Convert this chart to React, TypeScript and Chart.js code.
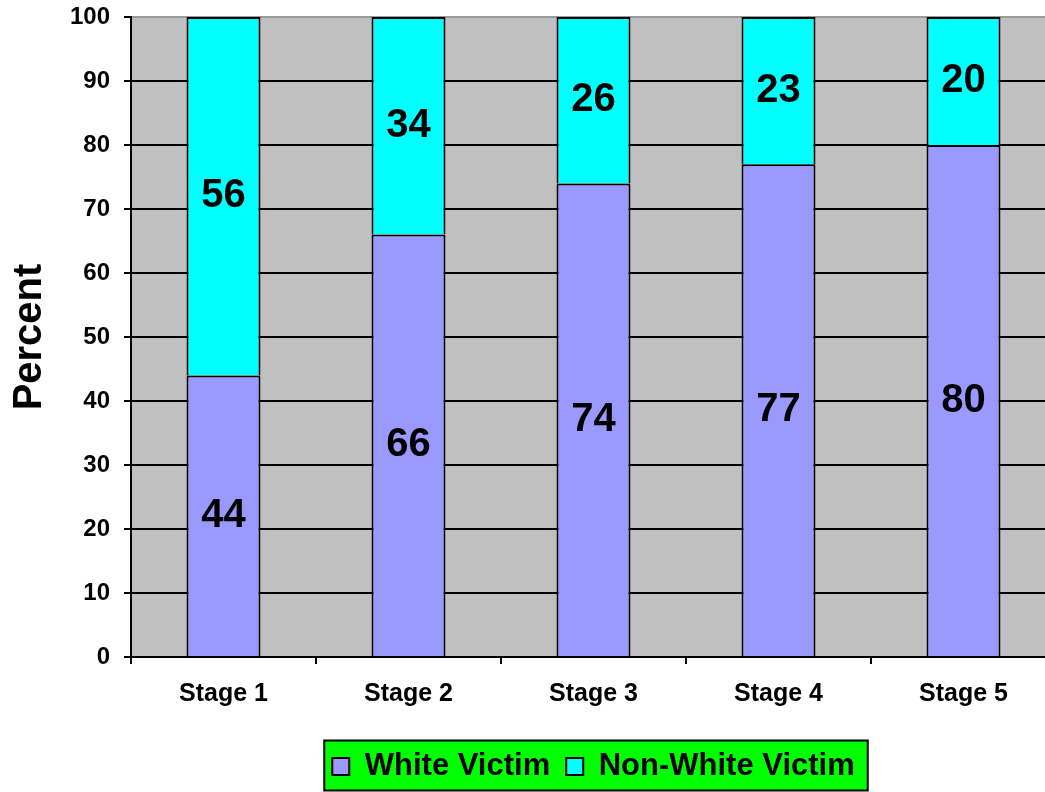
import React, { useEffect, useRef } from "react";
import { Chart, registerables } from "chart.js";

Chart.register(...registerables);

const categories = ["Stage 1", "Stage 2", "Stage 3", "Stage 4", "Stage 5"];
const whiteVictim = [44, 66, 74, 77, 80];
const nonWhiteVictim = [56, 34, 26, 23, 20];
const seriesNames = ["White Victim", "Non-White Victim"];
const yAxisTitle = "Percent";

const FONT = "'Liberation Sans', Arial, Helvetica, sans-serif";

const plotBg = {
  id: "plotBg",
  beforeDraw(chart: any) {
    const { ctx, chartArea } = chart;
    ctx.save();
    ctx.fillStyle = "#c0c0c0";
    ctx.fillRect(chartArea.left, chartArea.top, chartArea.right - chartArea.left, chartArea.bottom - chartArea.top);
    const lg = chart.legend;
    if (lg && lg.legendHitBoxes && lg.legendHitBoxes.length) {
      const hbs = lg.legendHitBoxes;
      const first = hbs[0];
      const last = hbs[hbs.length - 1];
      const cy = first.top + first.height / 2;
      const left = first.left - 8;
      const right = last.left + last.width + 13;
      ctx.fillStyle = "#00ff00";
      ctx.fillRect(left, cy - 26, right - left, 50);
      ctx.strokeStyle = "#000";
      ctx.lineWidth = 2;
      ctx.strokeRect(left, cy - 26, right - left, 50);
    }
    ctx.restore();
  },
};

const barLabels = {
  id: "barLabels",
  afterDatasetsDraw(chart: any) {
    const { ctx } = chart;
    ctx.save();
    ctx.font = `bold 40px ${FONT}`;
    ctx.fillStyle = "#000";
    ctx.textAlign = "center";
    ctx.textBaseline = "middle";
    chart.data.datasets.forEach((ds: any, di: number) => {
      const meta = chart.getDatasetMeta(di);
      meta.data.forEach((el: any, i: number) => {
        const v = ds.data[i];
        const cy = (el.y + el.base) / 2;
        ctx.fillText(String(v), el.x, cy);
      });
    });
    ctx.restore();
  },
};

export default function App() {
  const ref = useRef<HTMLCanvasElement | null>(null);
  useEffect(() => {
    if (!ref.current) return;
    const chart = new Chart(ref.current, {
      type: "bar",
      data: {
        labels: categories,
        datasets: [
          {
            label: seriesNames[0],
            data: whiteVictim,
            backgroundColor: "#9999ff",
            borderColor: "#000",
            borderWidth: 2,
          },
          {
            label: seriesNames[1],
            data: nonWhiteVictim,
            backgroundColor: "#00ffff",
            borderColor: "#000",
            borderWidth: 2,
          },
        ],
      },
      options: {
        responsive: false,
        animation: false,
        devicePixelRatio: 1,
        layout: { padding: { top: 17, right: 4, left: 0, bottom: 0 } },
        datasets: {
          bar: { categoryPercentage: 1, barPercentage: 0.4 },
        },
        plugins: {
          tooltip: { enabled: false },
          legend: {
            position: "bottom",
            fullSize: false,
            labels: {
              boxWidth: 17,
              boxHeight: 17,
              padding: 16,
              color: "#000",
              font: { size: 31, weight: "bold", family: FONT },
            },
          },
        },
        scales: {
          x: {
            stacked: true,
            offset: true,
            grid: {
              offset: true,
              drawOnChartArea: false,
              drawTicks: true,
              tickLength: 7,
              color: "#000",
              lineWidth: 2,
            },
            border: { display: true, color: "#000", width: 2 },
            ticks: {
              color: "#000",
              padding: 15,
              maxRotation: 0,
              font: { size: 25, weight: "bold", family: FONT },
            },
            afterFit: (s: any) => {
              s.height = 78;
              s.paddingLeft = 0;
              s.paddingRight = 0;
            },
          },
          y: {
            stacked: true,
            min: 0,
            max: 100,
            ticks: {
              stepSize: 10,
              color: "#000",
              padding: 14,
              font: { size: 24, weight: "bold", family: FONT },
            },
            grid: {
              color: (c: any) => (c.tick && c.tick.value === 100 ? "#9a9a9a" : "#000"),
              tickColor: "#000",
              lineWidth: 2,
              drawTicks: true,
              tickLength: 7,
            },
            border: { display: true, color: "#000", width: 2 },
            title: {
              display: true,
              text: yAxisTitle,
              color: "#000",
              font: { size: 40, weight: "bold", family: FONT },
              padding: { top: 6, bottom: 0 },
            },
            afterFit: (s: any) => {
              s.width = 131;
              s.paddingTop = 0;
              s.paddingBottom = 0;
            },
          },
        },
      },
      plugins: [plotBg, barLabels],
    });
    return () => chart.destroy();
  }, []);

  return (
    <div
      style={{
        position: "absolute",
        left: 0,
        top: 0,
        width: 1045,
        height: 792,
        overflow: "hidden",
        background: "#fff",
      }}
    >
      <canvas ref={ref} width={1060} height={792} style={{ width: 1060, height: 792, display: "block" }} />
    </div>
  );
}
